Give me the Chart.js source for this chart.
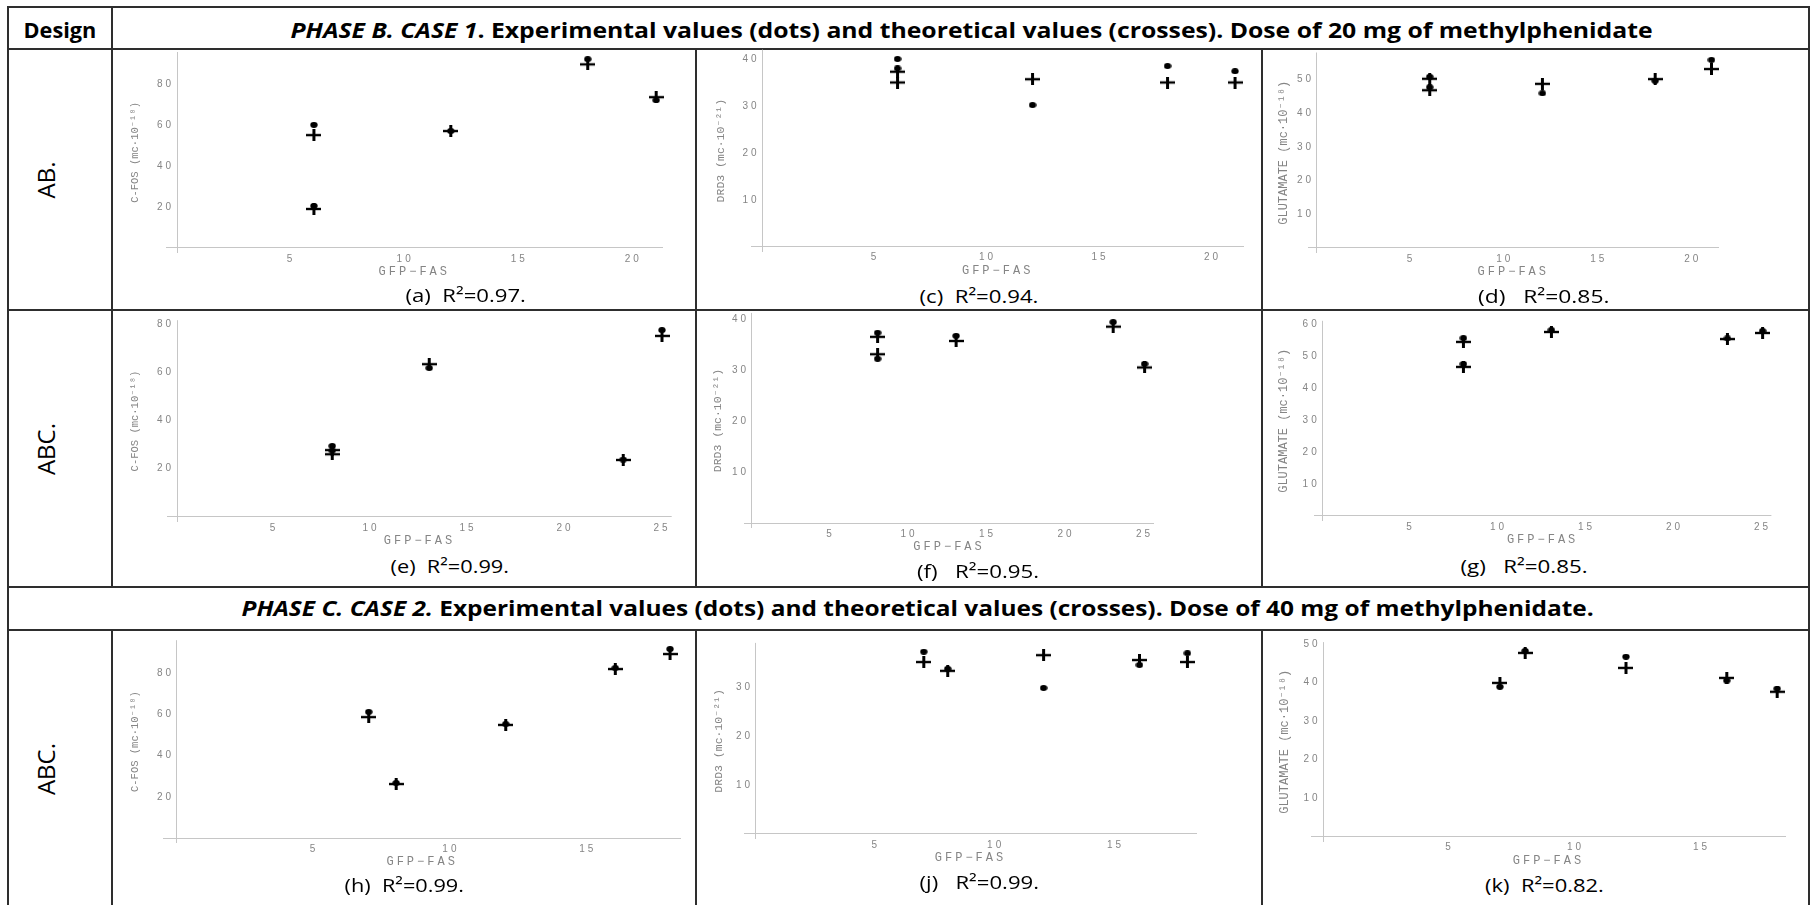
<!DOCTYPE html>
<html lang="en">
<head>
<meta charset="UTF-8">
<title>Experimental vs theoretical values - methylphenidate</title>
<script src="https://cdn.jsdelivr.net/npm/chart.js"></script>
<style>
  body { margin: 0; background: #fff; width: 1816px; height: 905px; position: relative; overflow: hidden; }
  .line { position: absolute; background: #2e2e2e; }
  .txt { position: absolute; white-space: nowrap; font-family: "Open Sans", sans-serif; color: #000; line-height: 1; }
  .head { font-weight: 700; font-size: 22px; }
  .cap { font-size: 19px; }
  .row { font-size: 24px; }
  canvas { position: absolute; }
</style>
</head>
<body>
<script>
// ---- data: GFP-FAS (x), experimental dots, theoretical crosses ----
const xA = [6, 6, 12, 18, 21];
const dotsA = [60, 20.5, 57, 92, 72];
const crossesA = [55, 19, 57, 89.5, 73.5];

const xC = [6, 6, 12, 18, 21];
const dotsC = [40, 38, 30.2, 38.5, 37.4];
const crossesC = [37.3, 35, 35.7, 35, 35];

const xD = [6, 6, 12, 18, 21];
const dotsD = [50.8, 47.7, 45.9, 49.6, 55.8];
const crossesD = [50.2, 46.8, 48.7, 50.1, 53.1];

const xE = [8, 8, 13, 23, 25];
const dotsE = [29.4, 27.5, 61.7, 23.8, 77.4];
const crossesE = [27.7, 26, 63.3, 23.6, 75];

const xF = [8, 8, 13, 23, 25];
const dotsF = [37.3, 32.2, 36.7, 39.4, 31.2];
const crossesF = [36.5, 33.1, 35.7, 38.5, 30.5];

const xG = [8, 8, 13, 23, 25];
const dotsG = [55.6, 47.5, 58.1, 55.5, 57.8];
const crossesG = [54.4, 46.6, 57.5, 55.3, 57.2];

const xH = [7, 8, 12, 16, 18];
const dotsH = [61.2, 26.7, 55.3, 82.5, 91.7];
const crossesH = [58.7, 26.2, 54.9, 82, 89.3];

const xJ = [7, 8, 12, 16, 18];
const dotsJ = [37.2, 33.7, 29.8, 34.5, 36.9];
const crossesJ = [35.1, 33.3, 36.5, 35.5, 35.1];

const xK = [7, 8, 12, 16, 18];
const dotsK = [38.9, 48.2, 46.7, 40.5, 38.4];
const crossesK = [39.9, 47.7, 43.8, 41.2, 37.6];

// tick labels
const xTicks20 = [5, 10, 15, 20];
const xTicks25 = [5, 10, 15, 20, 25];
const xTicks15 = [5, 10, 15];
const yTicks80 = [20, 40, 60, 80];
const yTicks40 = [10, 20, 30, 40];
const yTicks30 = [10, 20, 30];
const yTicks50 = [10, 20, 30, 40, 50];
const yTicks60 = [10, 20, 30, 40, 50, 60];

const titleCfos = 'C-FOS (mc·10⁻¹⁸)';
const titleDrd3 = 'DRD3 (mc·10⁻²¹)';
const titleGlu = 'GLUTAMATE (mc·10⁻¹⁸)';

// ---- layout (page pixels) ----
// area = chart area [left, top, right, bottom]; gap = distance from y axis to its title; ts = y title size
const panels = [
  { x: xA, dots: dotsA, crosses: crossesA, xt: xTicks20, yt: yTicks80, title: titleCfos, ts: 10.5,
    xr: [-0.5, 21.3], yr: [-2.4, 95.5], area: [165.6, 52, 663, 252.9], gap: 42,
    cap: '(a)&nbsp;&nbsp;R²=0.97.', capAt: [465, 295, 120] },
  { x: xC, dots: dotsC, crosses: crossesC, xt: xTicks20, yt: yTicks40, title: titleDrd3, ts: 11.5,
    xr: [-0.5, 21.4], yr: [-1, 42], area: [751.3, 49.6, 1244, 251.7], gap: 42,
    cap: '(c)&nbsp;&nbsp;R²=0.94.', capAt: [979, 296, 119] },
  { x: xD, dots: dotsD, crosses: crossesD, xt: xTicks20, yt: yTicks50, title: titleGlu, ts: 12,
    xr: [-0.5, 21.4], yr: [-1.5, 58], area: [1307.6, 52.5, 1719, 253], gap: 33,
    cap: '(d)&nbsp;&nbsp;&nbsp;R²=0.85.', capAt: [1543, 296, 131] },
  { x: xE, dots: dotsE, crosses: crossesE, xt: xTicks25, yt: yTicks80, title: titleCfos, ts: 10.5,
    xr: [-0.5, 25.5], yr: [-2, 81.5], area: [167.3, 320.2, 671.7, 521.8], gap: 42,
    cap: '(e)&nbsp;&nbsp;R²=0.99.', capAt: [450, 566, 119] },
  { x: xF, dots: dotsF, crosses: crossesF, xt: xTicks25, yt: yTicks40, title: titleDrd3, ts: 11.5,
    xr: [-0.5, 25.6], yr: [-1, 41.2], area: [744.1, 312.9, 1154, 528.1], gap: 34,
    cap: '(f)&nbsp;&nbsp;&nbsp;R²=0.95.', capAt: [978, 571, 122] },
  { x: xG, dots: dotsG, crosses: crossesG, xt: xTicks25, yt: yTicks60, title: titleGlu, ts: 12,
    xr: [-0.5, 25.5], yr: [-1.5, 61], area: [1313.8, 320.8, 1771.4, 520.8], gap: 38,
    cap: '(g)&nbsp;&nbsp;&nbsp;R²=0.85.', capAt: [1524, 566, 127] },
  { x: xH, dots: dotsH, crosses: crossesH, xt: xTicks15, yt: yTicks80, title: titleCfos, ts: 10.5,
    xr: [-0.5, 18.4], yr: [-2.4, 96], area: [163.3, 640.2, 681, 843], gap: 42,
    cap: '(h)&nbsp;&nbsp;R²=0.99.', capAt: [404, 885, 120] },
  { x: xJ, dots: dotsJ, crosses: crossesJ, xt: xTicks15, yt: yTicks30, title: titleDrd3, ts: 11.5,
    xr: [-0.5, 18.4], yr: [-1, 39], area: [744, 642.9, 1197, 838.9], gap: 37,
    cap: '(j)&nbsp;&nbsp;&nbsp;R²=0.99.', capAt: [979, 882, 120] },
  { x: xK, dots: dotsK, crosses: crossesK, xt: xTicks15, yt: yTicks50, title: titleGlu, ts: 12,
    xr: [-0.5, 18.35], yr: [-1.3, 50.5], area: [1310.9, 642.1, 1786, 841.5], gap: 38,
    cap: '(k)&nbsp;&nbsp;R²=0.82.', capAt: [1544, 885, 119] }
];

// table rules
const hLines = [[7, 8, 1809], [49, 8, 1809], [310, 8, 1809], [587, 8, 1809], [630, 8, 1809]];
const vLines = [[8, 7, 905], [1809, 7, 905], [112, 7, 587], [112, 630, 905],
                [696, 49, 587], [696, 630, 905], [1262, 49, 587], [1262, 630, 905]];

function addLine(x, y, w, h) {
  const d = document.createElement('div');
  d.className = 'line';
  Object.assign(d.style, { left: x + 'px', top: y + 'px', width: w + 'px', height: h + 'px' });
  document.body.appendChild(d);
}

function addText(html, cls, cx, cy, w, rot) {
  const d = document.createElement('div');
  d.className = 'txt ' + cls;
  d.innerHTML = html;
  document.body.appendChild(d);
  const mw = d.offsetWidth, mh = d.offsetHeight;
  d.style.left = (cx - mw / 2) + 'px';
  d.style.top = (cy - mh / 2) + 'px';
  if (rot) d.style.transform = 'rotate(-90deg)';
  else if (w) d.style.transform = 'scaleX(' + (w / mw) + ')';
}

// marker images (the figure is slightly stretched sideways)
function crossMark() {
  const c = document.createElement('canvas');
  c.width = 15; c.height = 12;
  const g = c.getContext('2d');
  g.fillStyle = '#000';
  g.fillRect(0, 4.8, 15, 2.4);
  g.fillRect(6, 0, 3, 12);
  return c;
}
function dotMark() {
  const c = document.createElement('canvas');
  c.width = 8; c.height = 6;
  const g = c.getContext('2d');
  g.fillStyle = '#000';
  g.beginPath();
  g.ellipse(4, 3, 3.7, 2.9, 0, 0, Math.PI * 2);
  g.fill();
  return c;
}
const crossImg = crossMark();
const dotImg = dotMark();

const spacing = {
  id: 'spacing',
  beforeDraw(chart) { chart.ctx.letterSpacing = '3px'; }
};

Chart.defaults.font.family = '"Liberation Sans", Arial, sans-serif';

function makePanel(p) {
  const [L, T, R, B] = p.area;
  const overhang = (0 - p.xr[0]) / (p.xr[1] - p.xr[0]) * (R - L);
  const left = Math.round(L - (p.gap - overhang + p.ts * 0.6));
  const top = Math.round(T - 10);
  const yW = L - left;
  const xH = 19 + 7.2;
  const width = Math.ceil(R - left + 16);
  const height = Math.ceil(B - top + xH + 4);

  const cv = document.createElement('canvas');
  cv.width = width; cv.height = height;
  cv.style.left = left + 'px';
  cv.style.top = top + 'px';
  document.body.appendChild(cv);

  const axisGrid = {
    drawTicks: false,
    lineWidth: 1,
    color: c => (c.tick && c.tick.value === 0) ? '#c6c6c6' : 'rgba(0,0,0,0)'
  };
  const tickStyle = {
    font: { size: 10 },
    color: '#858585',
    autoSkip: false,
    maxRotation: 0,
    callback: v => v === 0 ? '' : String(v)
  };

  new Chart(cv, {
    type: 'scatter',
    data: {
      datasets: [
        { label: 'Experimental values', data: p.x.map((v, i) => ({ x: v, y: p.dots[i] })),
          pointStyle: dotImg, pointRadius: 4, clip: false },
        { label: 'Theoretical values', data: p.x.map((v, i) => ({ x: v, y: p.crosses[i] })),
          pointStyle: crossImg, pointRadius: 6, clip: false }
      ]
    },
    options: {
      responsive: false,
      animation: false,
      events: [],
      layout: { padding: { left: 0, top: T - top, right: width - (R - left), bottom: height - (B - top) - xH } },
      plugins: { legend: { display: false }, tooltip: { enabled: false } },
      scales: {
        x: {
          type: 'linear', min: p.xr[0], max: p.xr[1],
          afterBuildTicks: s => { s.ticks = [0, ...p.xt].map(v => ({ value: v })); },
          afterFit: s => { s.height = xH; s.paddingLeft = 0; s.paddingRight = 0; },
          grid: axisGrid,
          border: { display: false },
          ticks: Object.assign({ padding: 0 }, tickStyle),
          title: { display: true, text: 'GFP−FAS', color: '#858585', padding: 0,
                   font: { family: '"Liberation Mono", monospace', size: 12 } }
        },
        y: {
          type: 'linear', min: p.yr[0], max: p.yr[1],
          afterBuildTicks: s => { s.ticks = [0, ...p.yt].map(v => ({ value: v })); },
          afterFit: s => { s.width = yW; s.paddingTop = 0; s.paddingBottom = 0; },
          afterUpdate: s => {
            if (!s._plainTitle) {
              const orig = s.drawTitle;
              s.drawTitle = function () {
                const c = this.ctx, prev = c.letterSpacing;
                c.letterSpacing = '0px';
                orig.call(this);
                c.letterSpacing = prev;
              };
              s._plainTitle = true;
            }
          },
          grid: axisGrid,
          border: { display: false },
          // labels are all two digits: mirror them so they are not clipped, left edge set by padding
          ticks: Object.assign({ mirror: true, padding: overhang - 20 }, tickStyle),
          title: { display: true, text: p.title, color: '#858585', padding: 0,
                   font: { family: '"Liberation Mono", monospace', size: p.ts } }
        }
      }
    },
    plugins: [spacing]
  });

  addText(p.cap, 'cap', p.capAt[0], p.capAt[1], p.capAt[2]);
}

hLines.forEach(([y, x1, x2]) => addLine(x1 - 1, y - 1, x2 - x1 + 2, 2));
vLines.forEach(([x, y1, y2]) => addLine(x - 1, y1 - 1, 2, y2 - y1 + 2));

addText('Design', 'head', 60, 29, 73);
addText('<i>PHASE B. CASE 1</i>. Experimental values (dots) and theoretical values (crosses). Dose of 20 mg of methylphenidate',
        'head', 971, 29, 1362);
addText('<i>PHASE C. CASE 2.</i> Experimental values (dots) and theoretical values (crosses). Dose of 40 mg of methylphenidate.',
        'head', 917, 607, 1352);
addText('AB.', 'row', 46, 180, 0, true);
addText('ABC.', 'row', 46, 449, 0, true);
addText('ABC.', 'row', 46, 769, 0, true);

panels.forEach(makePanel);
</script>
</body>
</html>
